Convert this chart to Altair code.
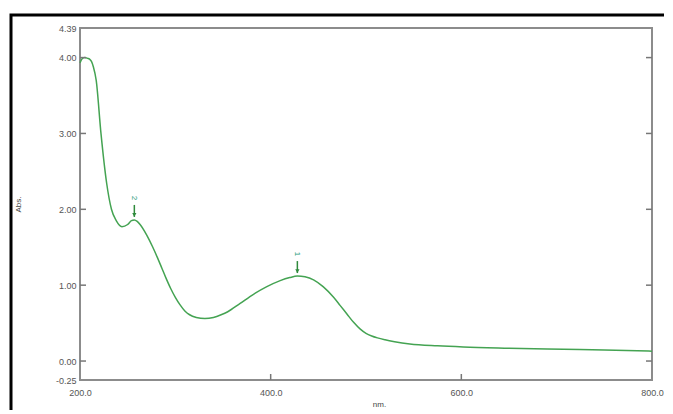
import altair as alt
import pandas as pd

# Spectrum
nm = [200, 202, 205, 208, 210, 212, 214, 217, 222, 228, 233, 238, 244, 250, 254, 257,
      260, 263, 270, 276, 281, 286, 290, 295, 300, 305, 310, 315, 322, 331, 340, 348, 355,
      368, 382, 396, 410, 420, 428, 436, 445, 455, 466, 473, 480, 487, 494, 500, 506, 512,
      520, 530, 546, 575, 602, 650, 690, 750, 800]
absv = [3.93, 3.98, 4.00, 3.99, 3.98, 3.95, 3.88, 3.70, 3.00, 2.34, 2.00, 1.85, 1.77, 1.80,
        1.85, 1.86, 1.84, 1.80, 1.66, 1.51, 1.37, 1.22, 1.10, 0.96, 0.84, 0.74, 0.66, 0.61,
        0.575, 0.56, 0.575, 0.61, 0.65, 0.76, 0.88, 0.98, 1.06, 1.10, 1.12, 1.11, 1.07, 0.98,
        0.84, 0.73, 0.62, 0.51, 0.42, 0.365, 0.33, 0.305, 0.28, 0.255, 0.225, 0.20, 0.185,
        0.17, 0.16, 0.145, 0.13]

# Peak picks
peak_nm = [428, 257]
peak_abs = [1.12, 1.86]
peak_label = ["1", "2"]

# Axis ticks
y_ticks = [-0.25, 0.0, 1.0, 2.0, 3.0, 4.0, 4.39]
y_inner_ticks = [0.0, 1.0, 2.0, 3.0, 4.0]
x_ticks = [200, 400, 600, 800]
x_inner_ticks = [400, 600]

W, H = 572, 352
GREEN = "#44a352"

spec = pd.DataFrame({"nm": nm, "abs": absv})
peaks = pd.DataFrame({"nm": peak_nm, "abs": peak_abs, "label": peak_label})
yt = pd.DataFrame({"v": y_inner_ticks})
xt = pd.DataFrame({"v": x_inner_ticks})

xscale = alt.Scale(domain=[200, 800], nice=False, zero=False)
yscale = alt.Scale(domain=[-0.25, 4.39], nice=False, zero=False)

line = alt.Chart(spec).mark_line(color=GREEN, strokeWidth=1.5, interpolate="monotone").encode(
    x=alt.X("nm:Q", scale=xscale,
            axis=alt.Axis(values=x_ticks, format=".1f", title="nm.", ticks=False, domain=False,
                          grid=False, labelPadding=8, labelFontSize=9, labelColor="#555",
                          labelFlush=False, labelOverlap=False,
                          titleFontSize=8, titleFontWeight="normal", titleColor="#444",
                          titleY=20, titleX=W / 2 + 13)),
    y=alt.Y("abs:Q", scale=yscale,
            axis=alt.Axis(values=y_ticks, title="Abs.", ticks=False, domain=False,
                          labelExpr="datum.value < 0 ? '-' + format(-datum.value, '.2f') : format(datum.value, '.2f')",
                          grid=False, labelPadding=4, labelFontSize=9, labelColor="#555",
                          labelFlush=False, labelOverlap=False,
                          titleFontSize=8, titleFontWeight="normal", titleColor="#444",
                          titleX=-58, titleY=H / 2)),
)

frame = alt.Chart(pd.DataFrame({"a": [0]})).mark_rect(
    filled=False, stroke="#8c8c8c", strokeWidth=2).encode(
    x=alt.value(0), x2=alt.value(W), y=alt.value(0), y2=alt.value(H))

tick_left = alt.Chart(yt).mark_rule(color="#777", strokeWidth=1.5).encode(
    y=alt.Y("v:Q", scale=yscale), x=alt.value(0), x2=alt.value(6))
tick_right = alt.Chart(yt).mark_rule(color="#777", strokeWidth=1.5).encode(
    y=alt.Y("v:Q", scale=yscale), x=alt.value(W - 6), x2=alt.value(W))
tick_bottom = alt.Chart(xt).mark_rule(color="#777", strokeWidth=1.5).encode(
    x=alt.X("v:Q", scale=xscale), y=alt.value(H - 6), y2=alt.value(H))

peak_rule = alt.Chart(peaks).mark_rule(color="#2f8a3c", strokeWidth=1.5, yOffset=-15, y2Offset=-3).encode(
    x=alt.X("nm:Q", scale=xscale), y=alt.Y("abs:Q", scale=yscale), y2="abs:Q")
peak_arrow = alt.Chart(peaks).mark_point(shape="triangle-down", filled=True, color="#2f8a3c",
                                          size=18, yOffset=-5, opacity=1).encode(
    x=alt.X("nm:Q", scale=xscale), y=alt.Y("abs:Q", scale=yscale))
peak_text = alt.Chart(peaks).mark_text(angle=90, color="#2a9a7a", fontSize=8, yOffset=-22,
                                        font="Liberation Sans").encode(
    x=alt.X("nm:Q", scale=xscale), y=alt.Y("abs:Q", scale=yscale), text="label:N")

border = alt.Chart(pd.DataFrame({"a": [0]})).mark_rect(
    filled=False, stroke="black", strokeWidth=3, clip=False).encode(
    x=alt.value(-69), x2=alt.value(680), y=alt.value(-13), y2=alt.value(440))

chart = alt.layer(border, frame, line, tick_left, tick_right, tick_bottom,
                  peak_rule, peak_arrow, peak_text).properties(
    width=W, height=H,
    autosize=alt.AutoSizeParams(type="none"),
    padding={"left": 72, "top": 20, "right": 12, "bottom": 30},
).configure_view(
    stroke=None
).configure_axis(
    labelFont="Liberation Sans", titleFont="Liberation Sans", labelFontWeight="bold"
).configure(background="white")

chart.save("out.html", embed_options={"renderer": "svg", "actions": False})
